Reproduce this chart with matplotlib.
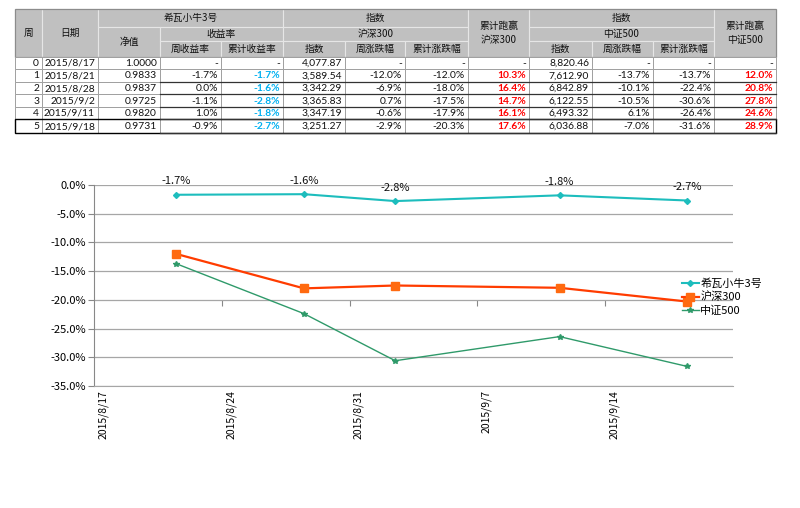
import datetime as dt
import matplotlib
matplotlib.use('Agg')
import matplotlib.pyplot as plt
import matplotlib.dates as mdates
from matplotlib.patches import Rectangle
from matplotlib.ticker import FuncFormatter, FixedLocator

plt.rcParams['font.family'] = ['Noto Sans CJK SC', 'DejaVu Sans']

# 数据
weeks = [0, 1, 2, 3, 4, 5]
dates = ['2015/8/17', '2015/8/21', '2015/8/28', '2015/9/2', '2015/9/11', '2015/9/18']
nav = [1.0000, 0.9833, 0.9837, 0.9725, 0.9820, 0.9731]
fund_week = [None, -1.7, 0.0, -1.1, 1.0, -0.9]
fund_cum = [None, -1.7, -1.6, -2.8, -1.8, -2.7]
hs300 = [4077.87, 3589.54, 3342.29, 3365.83, 3347.19, 3251.27]
hs300_week = [None, -12.0, -6.9, 0.7, -0.6, -2.9]
hs300_cum = [None, -12.0, -18.0, -17.5, -17.9, -20.3]
excess300 = [None, 10.3, 16.4, 14.7, 16.1, 17.6]
zz500 = [8820.46, 7612.90, 6842.89, 6122.55, 6493.32, 6036.88]
zz500_week = [None, -13.7, -10.1, -10.5, 6.1, -7.0]
zz500_cum = [None, -13.7, -22.4, -30.6, -26.4, -31.6]
excess500 = [None, 12.0, 20.8, 27.8, 24.6, 28.9]

series_names = ['希瓦小牛3号', '沪深300', '中证500']
tick_dates = ['2015/8/17', '2015/8/24', '2015/8/31', '2015/9/7', '2015/9/14']


def to_date(s):
    y, m, d = s.split('/')
    return dt.date(int(y), int(m), int(d))


fig = plt.figure(figsize=(8, 5.08), dpi=100)

# ---------- 表格 ----------
axt = fig.add_axes([0, 0, 1, 1])
axt.set_xlim(0, 800)
axt.set_ylim(508, 0)
axt.axis('off')

col_x = [15, 42, 98, 160, 221, 283, 345, 405, 468, 529, 592, 653, 714, 776]
hdr_y = [9, 27, 41, 57]
row_y = [57, 69, 82, 94, 107, 119, 133]

# (列起, 列止, 行起, 行止, 文字)
headers = [
    (0, 1, 0, 3, '周'), (1, 2, 0, 3, '日期'),
    (2, 5, 0, 1, '希瓦小牛3号'), (2, 3, 1, 3, '净值'), (3, 5, 1, 2, '收益率'),
    (3, 4, 2, 3, '周收益率'), (4, 5, 2, 3, '累计收益率'),
    (5, 8, 0, 1, '指数'), (5, 8, 1, 2, '沪深300'),
    (5, 6, 2, 3, '指数'), (6, 7, 2, 3, '周涨跌幅'), (7, 8, 2, 3, '累计涨跌幅'),
    (8, 9, 0, 3, '累计跑赢\n沪深300'),
    (9, 12, 0, 1, '指数'), (9, 12, 1, 2, '中证500'),
    (9, 10, 2, 3, '指数'), (10, 11, 2, 3, '周涨跌幅'), (11, 12, 2, 3, '累计涨跌幅'),
    (12, 13, 0, 3, '累计跑赢\n中证500'),
]
for c0, c1, r0, r1, txt in headers:
    x0, x1 = col_x[c0], col_x[c1]
    y0, y1 = hdr_y[r0], hdr_y[r1]
    axt.add_patch(Rectangle((x0, y0), x1 - x0, y1 - y0, facecolor='#c0c0c0',
                            edgecolor='#e6e6e6', lw=0.8))
    axt.text((x0 + x1) / 2, (y0 + y1) / 2, txt, ha='center', va='center',
             fontsize=7, color='#111111', linespacing=1.6)
axt.add_patch(Rectangle((col_x[0], hdr_y[0]), col_x[-1] - col_x[0], hdr_y[-1] - hdr_y[0],
                        facecolor='none', edgecolor='#8c8c8c', lw=0.9))


def pct(v):
    return '-' if v is None else f'{v:.1f}%'


for i in range(len(weeks)):
    cells = [str(weeks[i]), dates[i], f'{nav[i]:.4f}', pct(fund_week[i]), pct(fund_cum[i]),
             f'{hs300[i]:,.2f}', pct(hs300_week[i]), pct(hs300_cum[i]), pct(excess300[i]),
             f'{zz500[i]:,.2f}', pct(zz500_week[i]), pct(zz500_cum[i]), pct(excess500[i])]
    y0, y1 = row_y[i], row_y[i + 1]
    for j, txt in enumerate(cells):
        x0, x1 = col_x[j], col_x[j + 1]
        axt.add_patch(Rectangle((x0, y0), x1 - x0, y1 - y0, facecolor='white',
                                edgecolor='#a0a0a0', lw=0.7))
        color, weight = '#111111', 'normal'
        if j == 4 and fund_cum[i] is not None:
            color, weight = '#00b0f0', 'bold'
        if j in (8, 12) and txt != '-':
            color, weight = '#ff0000', 'bold'
        axt.text(x1 - 3, (y0 + y1) / 2 + 0.5, txt, ha='right', va='center',
                 fontsize=7.4, color=color, fontweight=weight,
                 family=['Lato', 'Noto Sans CJK SC'])

# 数据区深色横线
for i in range(2, len(row_y)):
    axt.plot([col_x[3], col_x[-1]], [row_y[i], row_y[i]], color='#333333', lw=0.9)
axt.add_patch(Rectangle((col_x[0], row_y[5]), col_x[-1] - col_x[0], row_y[6] - row_y[5],
                        facecolor='none', edgecolor='black', lw=1.0))

# ---------- 折线图 ----------
ax = fig.add_axes([94 / 800, 1 - 386 / 508, (733 - 94) / 800, (386 - 185) / 508])
xd = [mdates.date2num(to_date(s)) for s in dates[1:]]
f_cum = [v / 100 for v in fund_cum[1:]]
h_cum = [v / 100 for v in hs300_cum[1:]]
z_cum = [v / 100 for v in zz500_cum[1:]]

l1, = ax.plot(xd, f_cum, color='#1dbdbd', lw=1.5, marker='D', ms=3, zorder=4)
l2, = ax.plot(xd, h_cum, color='#ff3c00', lw=1.6, marker='s', ms=6,
              mfc='#ff6a10', mec='#ff6a10', zorder=3)
l3, = ax.plot(xd, z_cum, color='#2f9a6a', lw=1.0, marker='*', ms=4, zorder=2)

for x, v in zip(xd, fund_cum[1:]):
    ax.annotate(f'{v:.1f}%', (x, v / 100), xytext=(0, 6), textcoords='offset points',
                ha='center', va='bottom', fontsize=8, color='#111111')

ax.set_ylim(-0.35, 0.0)
ax.set_yticks([-0.05 * k for k in range(8)])
ax.yaxis.set_major_formatter(FuncFormatter(lambda v, p: f'{round(v * 100, 1) + 0.0:.1f}%'))
ax.grid(axis='y', color='#a6a6a6', lw=0.9)
ax.set_axisbelow(True)

# 日期轴：每天占一格，标签在格中，刻度线在格边
tick_pos = [mdates.date2num(to_date(s)) for s in tick_dates]
ax.set_xlim(tick_pos[0] - 0.5, mdates.date2num(to_date('2015/9/20')) + 0.5)
ax.xaxis.set_major_locator(FixedLocator(tick_pos))
ax.xaxis.set_major_formatter(FuncFormatter(
    lambda v, p: '{0.year}/{0.month}/{0.day}'.format(mdates.num2date(v))))
ax.tick_params(axis='x', length=0, labelsize=7.5, labelrotation=90, pad=3)
ax.tick_params(axis='y', length=4, color='#888888', labelsize=8, pad=2)

# x 轴刻度线画在 -20% 处
sec = ax.secondary_xaxis((-0.20 + 0.35) / 0.35)
sec.set_xticks([t - 0.5 for t in tick_pos[1:]])
sec.tick_params(length=4, color='#888888', labelbottom=False, labeltop=False,
                direction='out')
sec.spines['bottom'].set_visible(False)

for s in ['top', 'right']:
    ax.spines[s].set_visible(False)
ax.spines['left'].set_color('#888888')
ax.spines['bottom'].set_color('#a6a6a6')

fig.legend([l1, l2, l3], series_names, loc='center left',
           bbox_to_anchor=(676 / 800, 1 - 297 / 508), frameon=False, fontsize=8,
           handlelength=1.6, handletextpad=0.1, labelspacing=0.3, borderpad=0)

fig.savefig('out.png', dpi=100)
